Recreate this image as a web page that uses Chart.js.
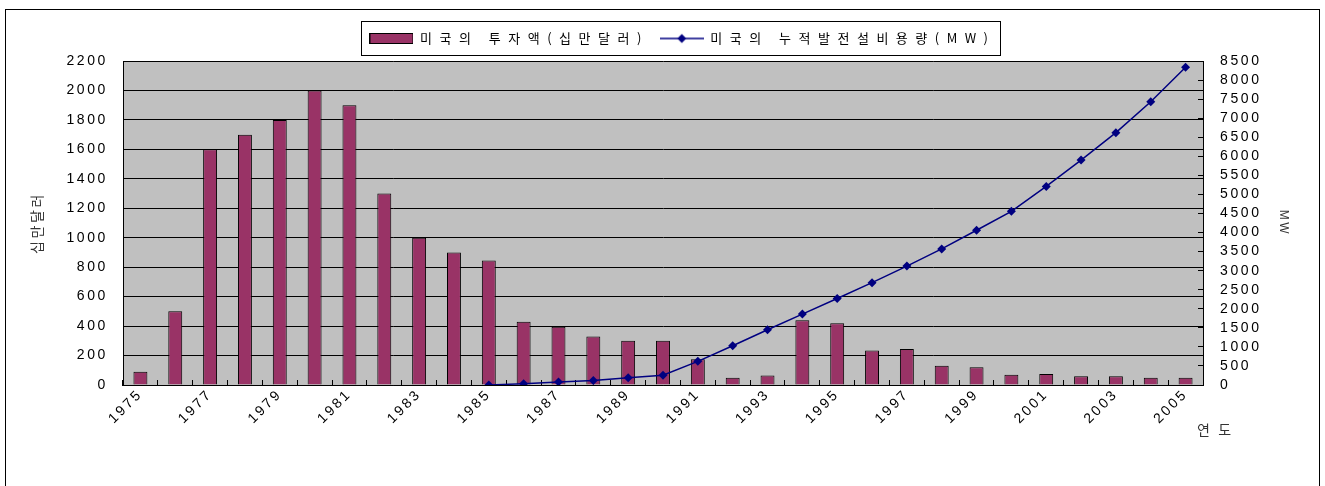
<!DOCTYPE html>
<html><head><meta charset="utf-8">
<script src="https://cdn.jsdelivr.net/npm/chart.js@4.4.1/dist/chart.umd.min.js"></script>
<style>html,body{margin:0;padding:0;background:#fff;}canvas{display:block;}</style>
</head><body>
<canvas id="c" width="1325" height="486"></canvas>
<script>
// ---- data ----
const years = ['1975','1976','1977','1978','1979','1980','1981','1982','1983','1984','1985','1986','1987','1988','1989','1990','1991','1992','1993','1994','1995','1996','1997','1998','1999','2000','2001','2002','2003','2004','2005'];
const investment = [90,500,1600,1700,1800,2000,1900,1300,1000,900,845,430,395,330,300,300,175,50,65,440,420,235,245,130,120,70,75,60,60,50,50];
const capacity = [null,null,null,null,null,null,null,null,null,null,0,35,80,115,190,255,620,1030,1450,1860,2270,2685,3120,3570,4060,4555,5210,5900,6620,7430,8335];
const xTickLabels = ['1975','1977','1979','1981','1983','1985','1987','1989','1991','1993','1995','1997','1999','2001','2003','2005'];
const leftTickValues = [0,200,400,600,800,1000,1200,1400,1600,1800,2000,2200];
const rightTickValues = [0,500,1000,1500,2000,2500,3000,3500,4000,4500,5000,5500,6000,6500,7000,7500,8000,8500];
const seriesNames = ['미국의 투자액(십만달러)','미국의 누적발전설비용량(MW)'];
const leftTitle = '십만달러';
const rightTitle = 'MW';
const xTitle = '연 도';

const LS_TICK = '2.6px', LS_LEGEND = '7.5px';
const KFONT = 'Noto Sans CJK KR';
const LFONT = 'Liberation Sans';

function makeBarSwatch(){const c=document.createElement('canvas');c.width=44;c.height=11;const g=c.getContext('2d');g.fillStyle='#993366';g.fillRect(0.5,0.5,43,10);g.strokeStyle='#000';g.lineWidth=1;g.strokeRect(0.5,0.5,43,10);return c;}
function makeLineSwatch(){const c=document.createElement('canvas');c.width=44;c.height=12;const g=c.getContext('2d');g.strokeStyle='#000080';g.lineWidth=1.5;g.beginPath();g.moveTo(0,6);g.lineTo(44,6);g.stroke();g.fillStyle='#000080';g.beginPath();g.moveTo(22,1.5);g.lineTo(26.5,6);g.lineTo(22,10.5);g.lineTo(17.5,6);g.closePath();g.fill();return c;}
const swatches = [makeBarSwatch(), makeLineSwatch()];

function patchLegend(chart){
  const lg = chart.legend;
  if (!lg || lg._patched) return;
  lg._patched = true;
  const of = lg.fit, od = lg.draw;
  lg.fit = function(...a){const ctx=chart.ctx;const p=ctx.letterSpacing;ctx.letterSpacing=LS_LEGEND;const r=of.apply(this,a);ctx.letterSpacing=p;this.height+=6;return r;};
  lg.draw = function(...a){const ctx=chart.ctx;const p=ctx.letterSpacing;ctx.letterSpacing=LS_LEGEND;const r=od.apply(this,a);ctx.letterSpacing=p;return r;};
}

const decor = {
  id:'decor',
  beforeLayout(chart){ chart.ctx.letterSpacing = LS_TICK; patchLegend(chart); },
  beforeDraw(chart){
    const {ctx, chartArea:a, width, height} = chart;
    ctx.letterSpacing = LS_TICK;
    ctx.save();
    ctx.fillStyle='#fff'; ctx.fillRect(0,0,width,height);
    ctx.strokeStyle='#000'; ctx.lineWidth=1; ctx.strokeRect(5.5,9.5,width-11,height);
    ctx.fillStyle='#c0c0c0'; ctx.fillRect(a.left,a.top,a.right-a.left,a.bottom-a.top);
    ctx.restore();
  },
  afterDraw(chart){
    const ctx = chart.ctx, lg = chart.legend, hb = lg.legendHitBoxes;
    ctx.save();
    const x0 = Math.round(hb[0].left - 8), last = hb[hb.length-1];
    const x1 = Math.round(last.left + last.width + 4);
    const y0 = Math.round(lg.top), y1 = y0 + 34;
    ctx.strokeStyle='#000'; ctx.lineWidth=1;
    ctx.strokeRect(x0+0.5,y0+0.5,x1-x0,y1-y0);
    const xs = chart.scales.x;
    ctx.letterSpacing = LS_TICK;
    ctx.font = '14px "'+KFONT+'"'; ctx.fillStyle='#333'; ctx.textAlign='left'; ctx.textBaseline='middle';
    ctx.fillText(xTitle, xs.right - 6, xs.top + 45);
    ctx.restore();
  }
};

const plain = v => String(v);

new Chart(document.getElementById('c'), {
  data: {
    labels: years,
    datasets: [
      { type:'bar', label: seriesNames[0], data: investment, yAxisID:'y', order:2,
        backgroundColor:'#993366', borderColor:'#000', borderWidth:1,
        barPercentage:0.4, categoryPercentage:1 },
      { type:'line', label: seriesNames[1], data: capacity, yAxisID:'y1', order:1,
        borderColor:'#000080', backgroundColor:'#000080', borderWidth:1.5, tension:0,
        pointStyle:'rectRot', pointRadius:4.5, pointBackgroundColor:'#000080', pointBorderColor:'#000080', pointBorderWidth:0 }
    ]
  },
  options: {
    responsive:false, animation:false, devicePixelRatio:1, events:[],
    layout:{ padding:{ left:40, top:21, right:0, bottom:0 } },
    plugins:{
      tooltip:{enabled:false},
      legend:{ position:'top', align:'center',
        labels:{ usePointStyle:true, pointStyleWidth:44, padding:11, color:'#000',
          font:{ family:KFONT, size:13 },
          sort:(a,b)=>a.datasetIndex-b.datasetIndex,
          generateLabels(chart){ const items = Chart.defaults.plugins.legend.labels.generateLabels(chart); items.forEach(it=>{ it.pointStyle = swatches[it.datasetIndex]; }); return items; } } }
    },
    scales:{
      x:{ type:'category', offset:true,
        grid:{ display:true, drawOnChartArea:false, offset:true, tickLength:-5, color:'#000', lineWidth:1 },
        border:{ display:true, color:'#000', width:1 },
        ticks:{ autoSkip:false, minRotation:45, maxRotation:45, padding:6, color:'#000', font:{family:LFONT,size:14},
          callback(v,i){ const l = years[i]; return xTickLabels.includes(l) ? l : ''; } },
        afterFit(s){ s.height = 101; } },
      y:{ position:'left', min:0, max:2200,
        afterBuildTicks(s){ s.ticks = leftTickValues.map(v=>({value:v})); },
        grid:{ color:'#000', lineWidth:1, drawTicks:false },
        border:{ color:'#000', width:1 },
        ticks:{ autoSkip:false, padding:15, color:'#000', font:{family:LFONT,size:14}, callback:plain },
        title:{ display:true, text:leftTitle, color:'#333', font:{family:KFONT,size:14}, padding:{top:-11.4,bottom:0} },
        afterFit(s){ s.width = 83; } },
      y1:{ position:'right', min:0, max:8500,
        afterBuildTicks(s){ s.ticks = rightTickValues.map(v=>({value:v})); },
        grid:{ drawOnChartArea:false, tickLength:-5, color:'#000', lineWidth:1 },
        border:{ color:'#000', width:1 },
        ticks:{ autoSkip:false, padding:22, color:'#000', font:{family:LFONT,size:14}, callback:plain },
        title:{ display:true, text:rightTitle, color:'#333', font:{family:LFONT,size:12}, padding:{top:34,bottom:0} },
        afterFit(s){ s.width = 122; } }
    }
  },
  plugins:[decor]
});
</script>
</body></html>
